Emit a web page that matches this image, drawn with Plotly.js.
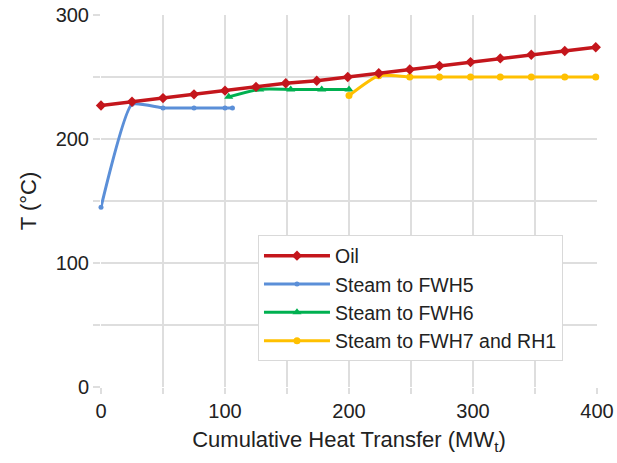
<!DOCTYPE html>
<html><head><meta charset="utf-8">
<script src="https://cdn.plot.ly/plotly-3.0.1.min.js"></script>
<style>html,body{margin:0;padding:0;background:#fff}#c{width:617px;height:463px}</style>
</head><body><div id="c"></div>
<script>
const oilX = [0,25,50,75,100,125,149,174,199,224,249,273,298,322,347,374,399];
const oilT = [227,230,233,236,239,242,245,247,250,253,256,259,262,265,268,271,274];
const fwh5X = [0,25,50,75,100,106];
const fwh5T = [145,228,225,225,225,225];
const fwh6X = [103,128,153,178,200];
const fwh6T = [234,240,240,240,240];
const fwh7X = [200,224,249,273,298,322,347,374,399];
const fwh7T = [235,251,250,250,250,250,250,250,250];
const names = ['Oil','Steam to FWH5','Steam to FWH6','Steam to FWH7 and RH1'];
const xGridVals = [0,50,100,150,200,250,300,350,400];
const xTickText = ['0','','100','','200','','300','','400'];
const yGridVals = [0,50,100,150,200,250,300];
const yTickText = ['0','','100','','200','','300'];

const traces = [
  {x:fwh5X,y:fwh5T,name:names[1],legendrank:2,mode:'lines+markers',cliponaxis:false,line:{color:'#5B8FD8',width:3,shape:'spline',smoothing:0.45},marker:{symbol:'circle',size:5,color:'#5B8FD8'}},
  {x:fwh6X,y:fwh6T,name:names[2],legendrank:3,mode:'lines+markers',cliponaxis:false,line:{color:'#00B050',width:3,shape:'spline',smoothing:0.6},marker:{symbol:'triangle-up',size:8,color:'#00B050'}},
  {x:fwh7X,y:fwh7T,name:names[3],legendrank:4,mode:'lines+markers',cliponaxis:false,line:{color:'#FFC000',width:3,shape:'spline',smoothing:0.6},marker:{symbol:'circle',size:7,color:'#FFC000'}},
  {x:oilX,y:oilT,name:names[0],legendrank:1,mode:'lines+markers',cliponaxis:false,line:{color:'#C4161C',width:3.5},marker:{symbol:'diamond',size:8,color:'#C4161C'}}
];
const grid = '#dedede';
const layout = {
  width:617,height:463,
  margin:{l:101,r:20,t:15,b:76},
  paper_bgcolor:'#fff',plot_bgcolor:'#fff',
  font:{family:'Liberation Sans, Arial, sans-serif',color:'#222'},
  showlegend:true,
  legend:{x:0.3165,y:0.238,xanchor:'left',yanchor:'middle',bgcolor:'#fff',bordercolor:'#d9d9d9',borderwidth:1,
    font:{size:19.5,color:'#222'},tracegroupgap:0,itemwidth:66},
  xaxis:{range:[0,400],tickvals:xGridVals,ticktext:xTickText,showgrid:true,gridcolor:grid,gridwidth:2,zeroline:false,
    showline:false,ticks:'outside',ticklen:6,tickwidth:2,tickcolor:grid,tickfont:{size:20,color:'#222'},
    title:{text:'Cumulative Heat Transfer (MW<sub>t</sub>)',font:{size:22,color:'#222'},standoff:10}},
  yaxis:{range:[0,300],tickvals:yGridVals,ticktext:yTickText,showgrid:true,gridcolor:grid,gridwidth:2,zeroline:false,
    showline:false,ticks:'outside',ticklen:7,tickwidth:2,tickcolor:grid,tickfont:{size:20,color:'#222'},
    title:{text:'T (°C)',font:{size:22,color:'#222'},standoff:12}}
};
Plotly.newPlot('c',traces,layout,{displayModeBar:false,staticPlot:true});
</script></body></html>
